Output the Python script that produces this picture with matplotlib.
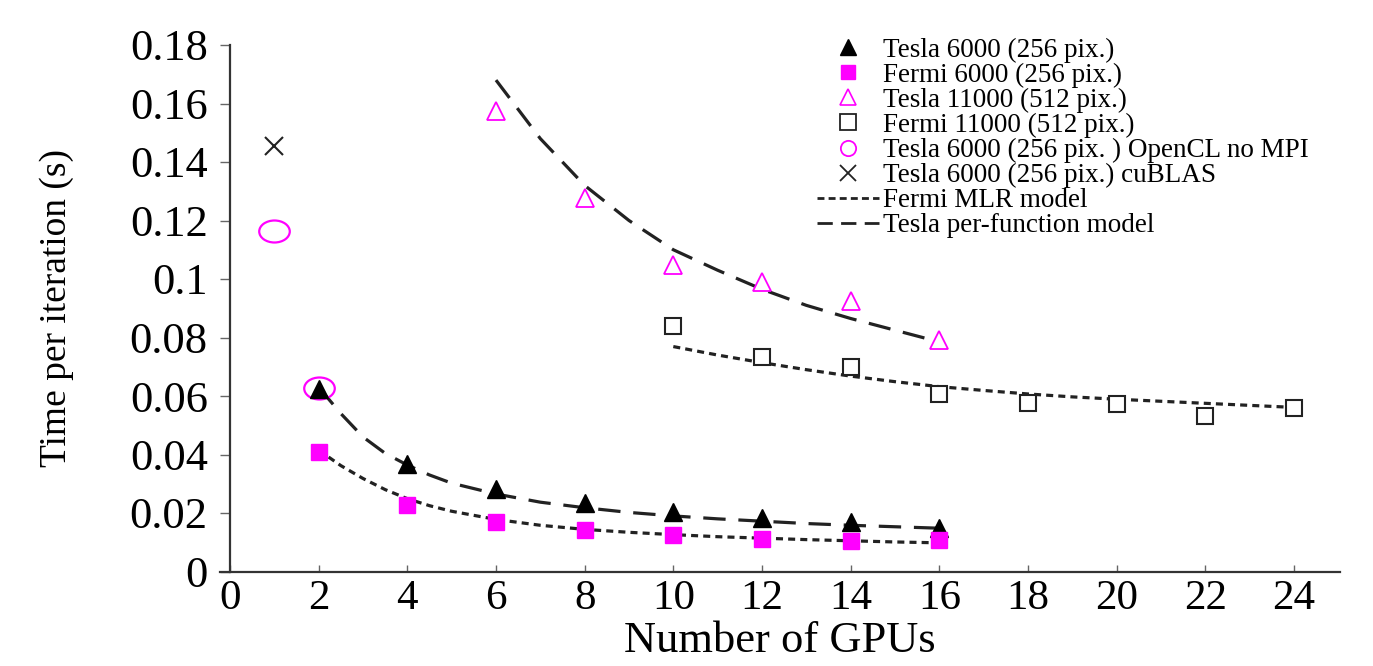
import matplotlib
matplotlib.use("Agg")
import matplotlib.pyplot as plt
import numpy as np
from matplotlib.path import Path
from matplotlib.ticker import FuncFormatter

plt.rcParams['font.family'] = ['Liberation Serif', 'DejaVu Serif']

# ---- data ----
x_small = [2, 4, 6, 8, 10, 12, 14, 16]
tesla6000 = [0.0625, 0.0367, 0.0282, 0.0234, 0.0203, 0.0183, 0.0170, 0.0149]
fermi6000 = [0.0409, 0.0228, 0.0169, 0.0143, 0.0126, 0.0112, 0.0105, 0.0108]

x_t11000 = [6, 8, 10, 12, 14, 16]
tesla11000 = [0.1575, 0.1277, 0.1048, 0.0990, 0.0925, 0.0791]

x_f11000 = [10, 12, 14, 16, 18, 20, 22, 24]
fermi11000 = [0.0839, 0.0734, 0.0700, 0.0607, 0.0577, 0.0572, 0.0533, 0.0558]

x_opencl = [1, 2]
opencl = [0.1164, 0.0627]

x_cublas = [1]
cublas = [0.1455]

# model curves
xm_6000 = [2, 2.5, 3, 3.5, 4, 4.5, 5, 6, 7, 8, 9, 10, 11, 12, 13, 14, 15, 16]
tesla_model_6000 = [0.0630, 0.0540, 0.0460, 0.0404, 0.0364, 0.0330, 0.0302, 0.0265,
                    0.0237, 0.0218, 0.0202, 0.0190, 0.0180, 0.0172, 0.0164, 0.0158,
                    0.0153, 0.0148]
fermi_model_6000 = [0.0415, 0.0362, 0.0318, 0.0280, 0.0249, 0.0225, 0.0206, 0.0178,
                    0.0158, 0.0144, 0.0134, 0.0126, 0.0119, 0.0114, 0.0109, 0.0105,
                    0.0101, 0.0098]
xm_t11000 = [6, 7, 8, 9, 10, 11, 12, 13, 14, 15, 16]
tesla_model_11000 = [0.168, 0.148, 0.132, 0.120, 0.110, 0.103, 0.0965, 0.091,
                     0.0865, 0.0825, 0.0785]
xm_f11000 = [10, 11, 12, 13, 14, 15, 16, 17, 18, 19, 20, 21, 22, 23, 24]
fermi_model_11000 = [0.0769, 0.0740, 0.0714, 0.0690, 0.0668, 0.0649, 0.0632, 0.0619,
                     0.0607, 0.0597, 0.0589, 0.0582, 0.0575, 0.0568, 0.0561]

xticks = list(range(0, 25, 2))
yticks = [0, 0.02, 0.04, 0.06, 0.08, 0.1, 0.12, 0.14, 0.16, 0.18]

# ---- figure ----
W, H = 1373, 666
fig = plt.figure(figsize=(W / 100, H / 100), dpi=100)
ax = fig.add_axes([220 / W, 1 - 571.5 / H, (1340 - 220) / W, (571.5 - 45) / H])

MAG = '#ff00ff'
LC = '#222222'
short_dash = (0, (2.2, 1.6))
long_dash = (0, (7.0, 4.0))

ax.plot(xm_6000, fermi_model_6000, color=LC, lw=2.3, linestyle=short_dash, zorder=2)
ax.plot(xm_f11000, fermi_model_11000, color=LC, lw=2.3, linestyle=short_dash, zorder=2)
ax.plot(xm_6000, tesla_model_6000, color=LC, lw=2.3, linestyle=long_dash, zorder=2)
ax.plot(xm_t11000, tesla_model_11000, color=LC, lw=2.3, linestyle=long_dash, zorder=2)

# ellipse marker for the OpenCL points
circ = Path.unit_circle()
ell = Path(circ.vertices * np.array([1.0, 0.72]), circ.codes)

ax.plot(x_opencl, opencl, linestyle='none', marker=ell, markersize=22,
        markerfacecolor='none', markeredgecolor=MAG, markeredgewidth=1.6, zorder=3)
ax.plot(x_cublas, cublas, linestyle='none', marker='x', markersize=13,
        color='#222222', markeredgewidth=1.5, zorder=3)
ax.plot(x_small, tesla6000, linestyle='none', marker='^', markersize=13,
        color='black', zorder=4)
ax.plot(x_small, fermi6000, linestyle='none', marker='s', markersize=11,
        color=MAG, zorder=4)
ax.plot(x_t11000, tesla11000, linestyle='none', marker='^', markersize=13,
        markerfacecolor='white', markeredgecolor=MAG, markeredgewidth=1.3, zorder=4)
ax.plot(x_f11000, fermi11000, linestyle='none', marker='s', markersize=12,
        markerfacecolor='white', markeredgecolor='#222222', markeredgewidth=1.5, zorder=4)

# legend handles
h = [
    ax.plot([], [], linestyle='none', marker='^', markersize=12, color='black')[0],
    ax.plot([], [], linestyle='none', marker='s', markersize=10, color=MAG)[0],
    ax.plot([], [], linestyle='none', marker='^', markersize=12, markerfacecolor='white',
            markeredgecolor=MAG, markeredgewidth=1.2)[0],
    ax.plot([], [], linestyle='none', marker='s', markersize=11, markerfacecolor='white',
            markeredgecolor='#222222', markeredgewidth=1.3)[0],
    ax.plot([], [], linestyle='none', marker='o', markersize=11, markerfacecolor='none',
            markeredgecolor=MAG, markeredgewidth=1.3)[0],
    ax.plot([], [], linestyle='none', marker='x', markersize=12, color='#222222',
            markeredgewidth=1.3)[0],
    ax.plot([], [], color=LC, lw=2.0, linestyle=(0, (2.5, 1.5)))[0],
    ax.plot([], [], color=LC, lw=2.0, linestyle=(0, (5.5, 3.0)))[0],
]
labels = ['Tesla 6000 (256 pix.)', 'Fermi 6000 (256 pix.)', 'Tesla 11000 (512 pix.)',
          'Fermi 11000 (512 pix.)', 'Tesla 6000 (256 pix. ) OpenCL no MPI',
          'Tesla 6000 (256 pix.) cuBLAS', 'Fermi MLR model', 'Tesla per-function model']
leg = ax.legend(h, labels, loc='upper left', bbox_to_anchor=(586 / 1120, 1.035),
                frameon=False, fontsize=19.5, handlelength=2.3, handletextpad=0.15,
                labelspacing=0.0, borderaxespad=0)

ax.set_xlim(-0.226, 25.04)
ax.set_ylim(0, 0.18)
ax.spines['left'].set_position(('data', 0))
ax.spines['top'].set_visible(False)
ax.spines['right'].set_visible(False)
for s in ('left', 'bottom'):
    ax.spines[s].set_color('#333333')
    ax.spines[s].set_linewidth(1.6)

ax.set_xticks(xticks)
ax.set_yticks(yticks)
ax.yaxis.set_major_formatter(FuncFormatter(lambda v, p: '%g' % v))
ax.tick_params(axis='x', direction='in', length=5, width=1, colors='#666666',
               labelcolor='black', labelsize=31, pad=6)
ax.tick_params(axis='y', direction='out', length=7, width=1, colors='#666666',
               labelcolor='black', labelsize=32, pad=9)

ax.set_xlabel('Number of GPUs', fontsize=32, labelpad=2)
ax.set_ylabel('Time per iteration (s)', fontsize=27, labelpad=40)

fig.savefig('out.png', dpi=100, facecolor='white')
